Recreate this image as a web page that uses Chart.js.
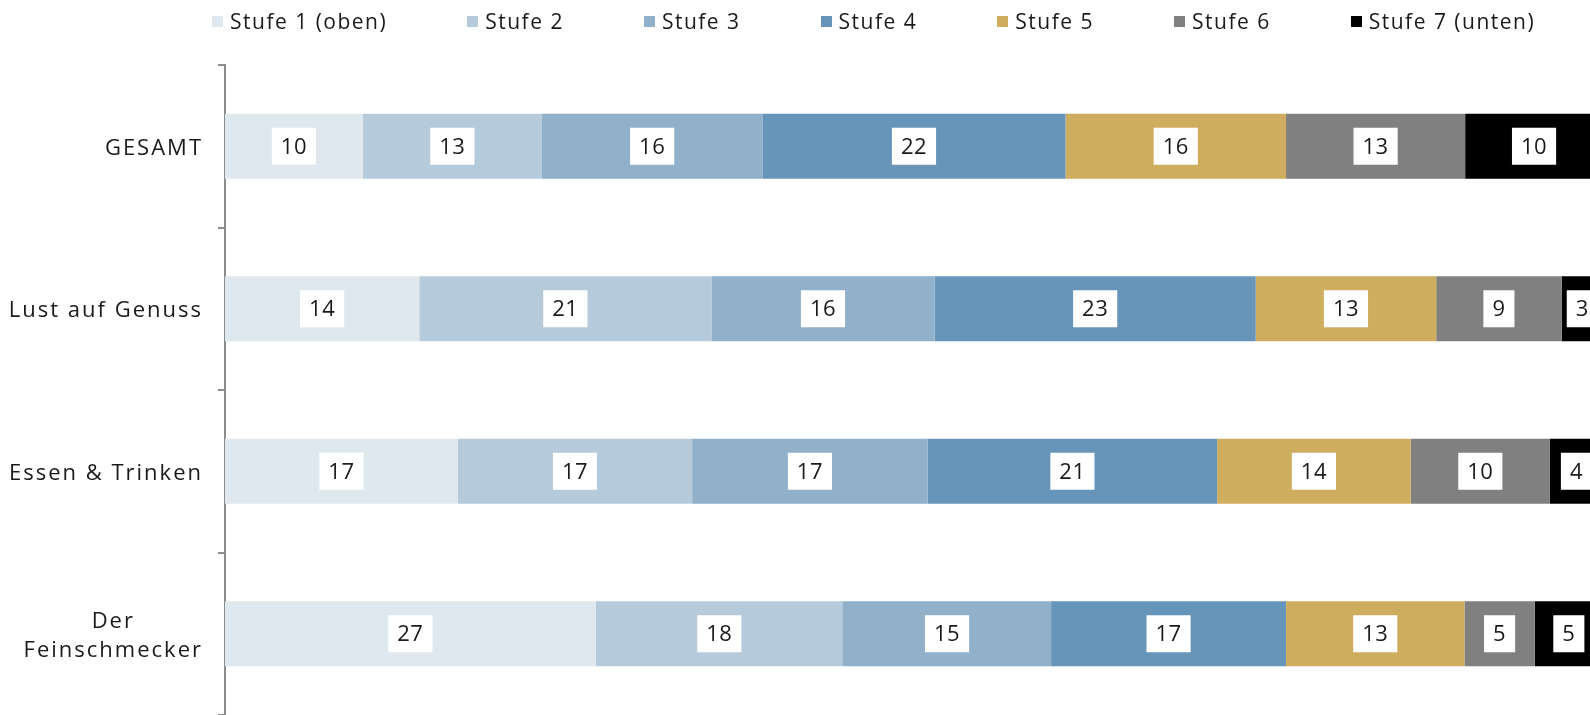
<!DOCTYPE html>
<html>
<head>
<meta charset="utf-8">
<script src="https://cdn.jsdelivr.net/npm/chart.js@4.4.0/dist/chart.umd.min.js"></script>
<style>
    html, body { margin: 0; padding: 0; background: #fff; overflow: hidden; }
    #wrap { position: relative; width: 1590px; height: 715px; }
    #legend { position: absolute; left: 212px; top: 7px; display: flex; font-family: "Open Sans"; font-size: 21px; line-height: 28px; letter-spacing: 1.5px; color: #1a1a1a; }
    .item { display: flex; align-items: center; margin-right: 80px; white-space: nowrap; }
    .swatch { width: 11px; height: 11px; margin-right: 7px; }
    canvas { display: block; }
</style>
</head>
<body>
<div id="wrap">
    <div id="legend"></div>
    <canvas id="chart" width="1590" height="715"></canvas>
</div>
<script>
// categories (multi-line labels as arrays)
const categories = [['GESAMT'], ['Lust auf Genuss'], ['Essen & Trinken'], ['Der', 'Feinschmecker']];
const seriesNames = ['Stufe 1 (oben)', 'Stufe 2', 'Stufe 3', 'Stufe 4', 'Stufe 5', 'Stufe 6', 'Stufe 7 (unten)'];

// shares in % (labels show the rounded value)
const stufe1 = [10, 14.1, 16.9, 26.9];
const stufe2 = [13, 21.2, 17.0, 17.95];
const stufe3 = [16, 16.2, 17.1, 15.1];
const stufe4 = [22, 23.3, 21.0, 17.05];
const stufe5 = [16, 13.1, 14.05, 12.95];
const stufe6 = [13, 9.1, 10.1, 5.1];
const stufe7 = [10, 3.0, 3.85, 4.95];

const colors = ['#dfe7ef', '#b5cadb', '#91b0ca', '#6795b9', '#cfad5e', '#808080', '#000000'];

const FONT = '"Open Sans"';

// legend as html
const legendEl = document.getElementById('legend');
seriesNames.forEach((name, i) => {
    const item = document.createElement('div');
    item.className = 'item';
    const sw = document.createElement('span');
    sw.className = 'swatch';
    sw.style.backgroundColor = colors[i];
    const txt = document.createElement('span');
    txt.textContent = name;
    item.appendChild(sw);
    item.appendChild(txt);
    legendEl.appendChild(item);
});

// white boxes with the value in the middle of each segment
const boxLabels = {
    id: 'boxLabels',
    afterDatasetsDraw(chart) {
        const ctx = chart.ctx;
        ctx.save();
        ctx.font = '22px ' + FONT;
        ctx.letterSpacing = '0.5px';
        ctx.textAlign = 'center';
        ctx.textBaseline = 'middle';
        chart.data.datasets.forEach((ds, di) => {
            chart.getDatasetMeta(di).data.forEach((bar, i) => {
                const txt = String(Math.round(ds.data[i]));
                const cx = (bar.x + bar.base) / 2;
                const w = ctx.measureText(txt).width + 18;
                ctx.fillStyle = '#fff';
                ctx.fillRect(cx - w / 2, bar.y - 18.5, w, 37);
                ctx.fillStyle = '#1a1a1a';
                ctx.fillText(txt, cx, bar.y + 1);
            });
        });
        ctx.restore();
    }
};

// category labels: right aligned block, lines centred inside it
const catLabels = {
    id: 'catLabels',
    afterDraw(chart) {
        const ctx = chart.ctx;
        const yScale = chart.scales.y;
        ctx.save();
        ctx.font = '22px ' + FONT;
        ctx.letterSpacing = '2px';
        ctx.textAlign = 'center';
        ctx.textBaseline = 'middle';
        ctx.fillStyle = '#1a1a1a';
        const right = yScale.right - 22;
        const lh = 29;
        categories.forEach((lines, i) => {
            const y = yScale.getPixelForTick(i) + 2;
            const blockW = Math.max(...lines.map(l => ctx.measureText(l).width));
            lines.forEach((l, j) => {
                ctx.fillText(l, right - blockW / 2, y + (j - (lines.length - 1) / 2) * lh);
            });
        });
        ctx.restore();
    }
};

const seriesData = [stufe1, stufe2, stufe3, stufe4, stufe5, stufe6, stufe7];

new Chart(document.getElementById('chart').getContext('2d'), {
    type: 'bar',
    data: {
        labels: categories.map(c => c.join(' ')),
        datasets: seriesNames.map((name, i) => ({
            label: name,
            data: seriesData[i],
            backgroundColor: colors[i],
            borderWidth: 0,
            barPercentage: 0.4,
            categoryPercentage: 1.0
        }))
    },
    options: {
        indexAxis: 'y',
        responsive: false,
        animation: false,
        layout: { padding: { top: 65, left: 0, right: 0, bottom: 0 } },
        plugins: {
            legend: { display: false },
            tooltip: { enabled: false }
        },
        scales: {
            x: { stacked: true, display: false, min: 0, max: 99.06 },
            y: {
                stacked: true,
                offset: true,
                border: { color: '#8c8c8c', width: 2 },
                grid: { drawOnChartArea: false, drawTicks: true, tickLength: 7, color: '#8c8c8c', lineWidth: 2, offset: true },
                ticks: { display: false },
                afterFit(scale) { scale.width = 225; }
            }
        }
    },
    plugins: [boxLabels, catLabels]
});
</script>
</body>
</html>
